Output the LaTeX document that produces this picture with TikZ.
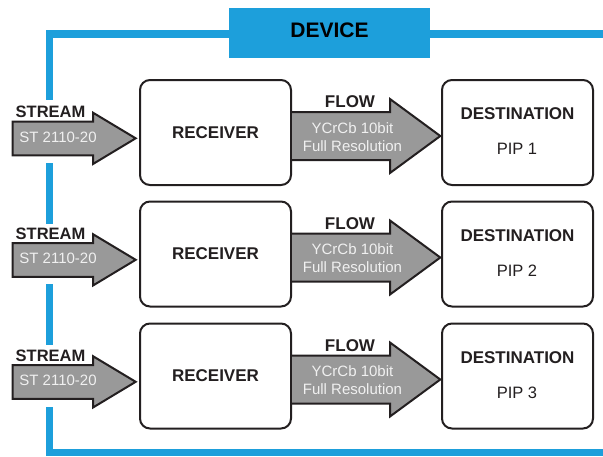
\documentclass[tikz,border=0pt]{standalone}
\usepackage{fontspec}
\setmainfont{Liberation Sans}
\usetikzlibrary{calc}
\definecolor{devblue}{RGB}{29,159,219}
\definecolor{ink}{RGB}{35,31,32}
\definecolor{arrowgray}{RGB}{153,153,153}
\definecolor{arrowtext}{RGB}{240,240,240}
\begin{document}
\begin{tikzpicture}[x=1pt,y=-1pt,
  box/.style={draw=ink, line width=2pt, rounded corners=10pt, fill=white,
    minimum width=151pt, minimum height=105pt, inner sep=0pt, text=ink,
    font=\bfseries\fontsize{17}{20}\selectfont},
  fatarrow/.style={draw=ink, line width=2pt, fill=arrowgray, line join=miter},
  frame/.style={draw=devblue, line width=7.5pt, line join=miter},
  lbl/.style={inner sep=0pt, text=ink, font=\bfseries\fontsize{17}{20}\selectfont},
  intext/.style={inner sep=0pt, text=arrowtext, font=\fontsize{15}{18}\selectfont},
  plain/.style={inner sep=0pt, text=ink, font=\fontsize{16.5}{19}\selectfont},
]
\useasboundingbox (0,0) rectangle (603,456);
% blue device frame
\draw[frame] (603,34) -- (49.5,34) -- (49.5,100);
\draw[frame] (49.5,163) -- (49.5,224);
\draw[frame] (49.5,284) -- (49.5,345);
\draw[frame] (49.5,407) -- (49.5,452.5) -- (603,452.5);
\node[fill=devblue, minimum width=201pt, minimum height=50pt, inner sep=0pt,
  text height=15pt, text depth=6pt, text=black,
  font=\bfseries\fontsize{21}{24}\selectfont] (device) at (329.5,33) {DEVICE};
\foreach \n/\d in {1/0,2/121.5,3/243.5}{
  \node[box] (rec\n) at (215.5,132.5+\d) {RECEIVER};
  \node[box] (dst\n) at (517.5,132.5+\d) {};
  \node[lbl] (dtitle\n) at (517.5,114+\d) {DESTINATION};
  \node[plain] (pip\n) at (517,149+\d) {PIP \n};
  % stream arrow
  \coordinate (src\n) at ($(rec\n.west)+(-126.5,5.8)$);
  \filldraw[fatarrow] ($(src\n)+(0,-16.8)$) -- ($(rec\n.west)+(-46,-11)$)
    -- ($(rec\n.west)+(-46,-19.8)$) -- ($(rec\n.west)+(-3.3,5.8)$)
    -- ($(rec\n.west)+(-46,31.5)$) -- ($(rec\n.west)+(-46,22.8)$)
    -- ($(src\n)+(0,17)$) -- cycle;
  \node[inner sep=0pt, text=ink, font=\bfseries\fontsize{16.5}{19}\selectfont]
    (stream\n) at (50.5,112+\d) {STREAM};
  \node[intext] (st\n) at (58,137+\d) {ST 2110-20};
  % flow arrow
  \filldraw[fatarrow] ($(rec\n.east)+(0,-20.5)$) -- ($(rec\n.east)+(98,-20.5)$)
    -- ($(rec\n.east)+(98,-33.5)$) -- ($(dst\n.west)+(-0.7,3.5)$)
    -- ($(rec\n.east)+(98,40.5)$) -- ($(rec\n.east)+(98,27.5)$)
    -- ($(rec\n.east)+(0,27.5)$);
  \node[lbl] (flow\n) at (350,102+\d) {FLOW};
  \node[intext] (fmt\n) at (352.5,128+\d) {YCrCb 10bit};
  \node[intext] (res\n) at (352.5,146+\d) {Full Resolution};
}
\end{tikzpicture}
\end{document}
